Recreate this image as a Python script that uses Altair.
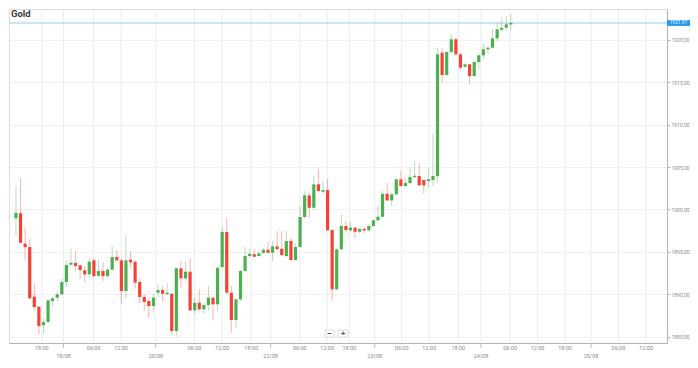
import altair as alt
import pandas as pd

# ---- data (hourly candles, Gold) ----
OPEN = [1898.95, 1899.54, 1895.96, 1895.57, 1889.72, 1888.54, 1886.35, 1886.73, 1889.21, 1889.60,
        1890.00, 1891.45, 1893.49, 1893.69, 1893.41, 1892.83, 1892.35, 1894.00, 1892.19, 1892.74,
        1892.15, 1892.90, 1894.39, 1894.00, 1890.39, 1894.08, 1893.84, 1891.45, 1889.68, 1889.21,
        1888.62, 1890.19, 1890.50, 1890.07, 1890.07, 1885.67, 1893.06, 1891.88, 1892.66, 1888.11,
        1889.01, 1888.23, 1888.74, 1889.60, 1888.82, 1893.21, 1897.34, 1890.19, 1886.97, 1889.41,
        1892.74, 1894.51, 1894.71, 1894.51, 1894.86, 1895.25, 1894.90, 1895.65, 1895.37, 1894.51,
        1896.28, 1894.04, 1895.57, 1899.11, 1901.66, 1900.20, 1902.96, 1902.09, 1902.29, 1897.57,
        1890.59, 1895.30, 1898.05, 1897.54, 1897.85, 1897.37, 1897.69, 1897.54, 1898.05, 1898.72,
        1899.14, 1901.85, 1901.07, 1901.78, 1903.55, 1902.76, 1903.11, 1903.82, 1903.94, 1903.47,
        1903.35, 1903.47, 1903.94, 1918.47, 1915.84, 1918.55, 1920.05, 1918.28, 1916.82, 1917.10,
        1915.72, 1917.37, 1918.16, 1918.87, 1919.06, 1920.16, 1921.18, 1921.41, 1921.81]
HIGH = [1902.76, 1903.67, 1897.85, 1896.55, 1891.37, 1888.60, 1887.17, 1889.41, 1889.68, 1890.30,
        1891.88, 1894.04, 1895.37, 1895.10, 1893.50, 1893.33, 1894.24, 1894.24, 1894.12, 1893.80,
        1893.10, 1895.69, 1895.22, 1894.24, 1897.07, 1895.10, 1894.00, 1891.95, 1890.00, 1889.60,
        1890.07, 1891.18, 1890.98, 1891.29, 1890.12, 1893.13, 1893.92, 1893.92, 1894.24, 1889.60,
        1890.59, 1888.97, 1890.98, 1889.70, 1893.20, 1897.93, 1899.02, 1890.98, 1889.60, 1892.94,
        1895.57, 1895.42, 1895.30, 1895.18, 1895.42, 1896.20, 1896.28, 1897.46, 1897.46, 1897.46,
        1896.60, 1896.01, 1900.40, 1902.17, 1901.97, 1903.94, 1904.73, 1903.35, 1903.55, 1897.60,
        1895.42, 1899.43, 1898.64, 1898.52, 1897.93, 1897.85, 1897.93, 1898.30, 1898.84, 1900.40,
        1902.17, 1903.15, 1901.97, 1903.67, 1904.53, 1903.74, 1905.00, 1905.71, 1905.47, 1903.50,
        1904.92, 1908.85, 1919.06, 1919.06, 1918.67, 1920.64, 1920.16, 1918.47, 1917.29, 1917.17,
        1917.49, 1918.47, 1919.53, 1919.26, 1921.23, 1922.00, 1922.59, 1922.79, 1922.99]
LOW = [1896.87, 1895.95, 1894.12, 1889.41, 1888.03, 1885.28, 1885.28, 1886.65, 1888.62, 1889.20,
       1889.90, 1890.86, 1893.30, 1892.74, 1891.77, 1891.37, 1892.04, 1891.95, 1892.04, 1891.57,
       1891.90, 1892.83, 1893.85, 1888.89, 1889.53, 1893.13, 1890.70, 1889.01, 1888.03, 1887.24,
       1887.83, 1889.68, 1889.13, 1890.00, 1885.28, 1885.00, 1890.78, 1891.57, 1888.03, 1887.64,
       1888.11, 1887.71, 1888.11, 1886.97, 1888.03, 1893.13, 1890.10, 1885.47, 1886.06, 1889.21,
       1892.70, 1894.31, 1894.31, 1894.43, 1894.78, 1894.78, 1893.92, 1895.20, 1894.51, 1894.31,
       1894.00, 1894.00, 1895.49, 1899.02, 1899.02, 1900.01, 1901.97, 1901.78, 1897.46, 1889.21,
       1890.50, 1895.20, 1897.26, 1897.37, 1896.60, 1897.14, 1897.20, 1897.40, 1897.97, 1898.60,
       1899.02, 1900.99, 1900.40, 1901.70, 1902.68, 1902.64, 1902.96, 1903.80, 1902.76, 1901.82,
       1902.56, 1902.76, 1903.15, 1914.93, 1915.72, 1918.47, 1918.08, 1916.51, 1916.70, 1914.74,
       1915.60, 1916.51, 1917.69, 1918.28, 1918.94, 1919.85, 1921.03, 1921.03, 1921.03]
CLOSE = [1899.61, 1896.08, 1895.57, 1889.53, 1888.50, 1886.26, 1886.73, 1889.29, 1889.53, 1890.00,
         1891.45, 1893.45, 1893.72, 1893.33, 1892.86, 1892.35, 1893.84, 1892.15, 1892.74, 1892.15,
         1892.90, 1894.39, 1894.00, 1890.39, 1894.00, 1893.77, 1891.37, 1889.68, 1889.09, 1888.62,
         1889.60, 1890.50, 1890.07, 1890.12, 1885.67, 1893.06, 1891.88, 1892.66, 1888.11, 1889.01,
         1888.23, 1888.74, 1889.60, 1888.82, 1893.13, 1897.34, 1890.19, 1886.97, 1889.41, 1892.74,
         1894.51, 1894.78, 1894.43, 1894.83, 1895.25, 1894.90, 1895.65, 1895.34, 1894.63, 1896.28,
         1894.04, 1895.57, 1899.11, 1901.66, 1900.20, 1902.96, 1902.17, 1902.29, 1897.54, 1890.59,
         1895.30, 1898.05, 1897.57, 1897.85, 1897.37, 1897.69, 1897.54, 1898.05, 1898.72, 1899.14,
         1901.85, 1901.07, 1901.78, 1903.55, 1902.76, 1903.11, 1903.82, 1903.94, 1902.84, 1902.84,
         1903.55, 1903.94, 1918.28, 1915.84, 1918.55, 1920.05, 1918.28, 1916.70, 1917.10, 1915.72,
         1917.37, 1918.16, 1918.87, 1919.06, 1920.16, 1921.23, 1921.41, 1921.81, 1921.97]

# x-axis labels (positions expressed in candle-slot units)
TIME_LABELS = ["18:00", "06:00", "12:00", "06:00", "12:00", "18:00", "06:00", "12:00", "18:00",
               "06:00", "12:00", "18:00", "06:00", "12:00", "18:00", "06:00", "12:00"]
TIME_POS = [5.64, 16.95, 22.94, 38.98, 44.98, 51.33, 61.93, 67.92, 72.73,
            84.17, 90.17, 96.53, 107.84, 113.83, 119.83, 131.48, 137.50]
DATE_LABELS = ["18/08", "20/08", "22/08", "23/08", "24/08", "25/08"]
DATE_POS = [10.38, 30.51, 55.57, 78.31, 101.48, 125.49]

Y_TICKS = [1885, 1890, 1895, 1900, 1905, 1910, 1915, 1920]
TITLE = "Gold"

# ---- build tables ----
df = pd.DataFrame({"i": list(range(len(OPEN))), "o": OPEN, "h": HIGH, "l": LOW, "c": CLOSE})
df["dir"] = ["up" if c >= o else "down" for o, c in zip(df["o"], df["c"])]
df["top"] = [max(o, c, (o + c) / 2 + 0.09) for o, c in zip(df["o"], df["c"])]
df["bot"] = [min(o, c, (o + c) / 2 - 0.09) for o, c in zip(df["o"], df["c"])]

last = CLOSE[-1]
price_df = pd.DataFrame({"p": [last], "lo": [last - 0.34], "hi": [last + 0.34],
                         "txt": [f"{last:.2f}"]})
time_df = pd.DataFrame({"x": TIME_POS, "t": TIME_LABELS})
date_df = pd.DataFrame({"x": DATE_POS, "t": DATE_LABELS})
grid_df = pd.DataFrame({"x": TIME_POS + DATE_POS})

W, H = 658, 334
xs = alt.Scale(domain=[-0.43, -0.43 + W / 4.653], nice=False, zero=False)
ys = alt.Scale(domain=[1923.62 - H / 8.486, 1923.62], nice=False, zero=False)

X_AXIS = alt.Axis(labels=False, ticks=False, grid=False, domain=True,
                  domainColor="#b3b3b3", title=None)
Y_AXIS = alt.Axis(orient="right", values=Y_TICKS, format=".2f", labelFontSize=5,
                  labelColor="#8a8a8a", labelPadding=1, tickSize=3, tickColor="#b3b3b3",
                  domainColor="#b3b3b3", gridColor="#f1f1f1", grid=True, title=None,
                  labelFont="Roboto")


def X(f):
    return alt.X(f, type="quantitative", scale=xs, axis=X_AXIS)


def Y(f):
    return alt.Y(f, type="quantitative", scale=ys, axis=Y_AXIS)


color = alt.Color("dir:N", scale=alt.Scale(domain=["up", "down"], range=["#4caf50", "#f44336"]),
                  legend=None)

vgrid = alt.Chart(grid_df).mark_rule(color="#ececec", strokeWidth=1).encode(x=X("x"))

date_ticks = alt.Chart(date_df).mark_rule(color="#bdbdbd", strokeWidth=1).encode(
    x=X("x"), y=alt.value(H), y2=alt.value(H + 5))

time_text = alt.Chart(time_df).mark_text(fontSize=5.5, color="#8a8a8a", font="Roboto",
                                         baseline="middle").encode(
    x=X("x"), y=alt.value(H + 5), text="t:N")

date_text = alt.Chart(date_df).mark_text(fontSize=5.5, color="#8a8a8a", font="Roboto",
                                         baseline="middle").encode(
    x=X("x"), y=alt.value(H + 13), text="t:N")

price_line = alt.Chart(price_df).mark_rule(color="#90cdf4", strokeWidth=1).encode(y=Y("p"))

base = alt.Chart(df)
wicks = base.mark_rule(strokeWidth=1, opacity=0.4).encode(x=X("i"), y=Y("l"), y2="h", color=color)
bodies = base.mark_bar(size=3.2).encode(x=X("i"), y=Y("bot"), y2="top", color=color)

price_box = alt.Chart(price_df).mark_rect(color="#2196f3").encode(
    x=alt.value(W), x2=alt.value(W + 23), y=Y("lo"), y2="hi")
price_txt = alt.Chart(price_df).mark_text(fontSize=4.8, color="white", font="Roboto",
                                          baseline="middle").encode(
    x=alt.value(W + 11.5), y=Y("p"), text="txt:N")

title = alt.Chart(price_df).mark_text(text=TITLE, fontSize=9.5, fontWeight="bold",
                                      color="#3a3a3a", font="Roboto", align="left",
                                      baseline="middle").encode(
    x=alt.value(2), y=alt.value(5))

btn_df = pd.DataFrame({"s": ["−", "+"]})
btn_box1 = alt.Chart(price_df).mark_rect(fill="white", stroke="#dddddd", strokeWidth=1).encode(
    x=alt.value(316), x2=alt.value(325), y=alt.value(321), y2=alt.value(328))
btn_box2 = alt.Chart(price_df).mark_rect(fill="white", stroke="#dddddd", strokeWidth=1).encode(
    x=alt.value(329), x2=alt.value(339), y=alt.value(321), y2=alt.value(328))
btn_t1 = alt.Chart(price_df).mark_text(text="−", fontSize=8, fontWeight="bold", color="#555",
                                       baseline="middle").encode(
    x=alt.value(320.5), y=alt.value(324.5))
btn_t2 = alt.Chart(price_df).mark_text(text="+", fontSize=8, fontWeight="bold", color="#555",
                                       baseline="middle").encode(
    x=alt.value(334), y=alt.value(324.5))

chart = alt.layer(
    vgrid, date_ticks, time_text, date_text, price_line, wicks, bodies,
    price_box, price_txt, title, btn_box1, btn_box2, btn_t1, btn_t2
).properties(width=W, height=H, padding=0).configure_view(
    stroke="#e6e6e6", strokeWidth=1
).configure(background="white")

chart.save("out.html", embed_options={"renderer": "svg", "actions": False})
